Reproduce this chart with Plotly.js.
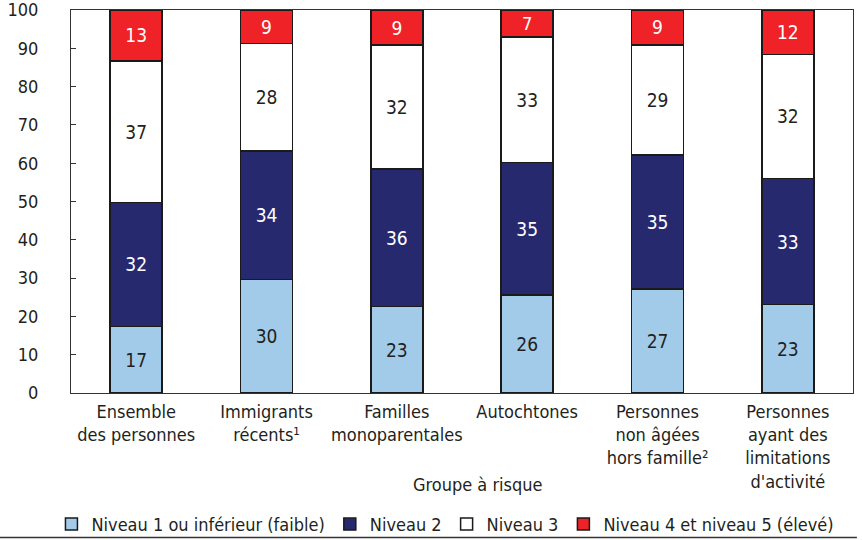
<!DOCTYPE html>
<html>
<head>
<meta charset="utf-8">
<script src="https://cdn.plot.ly/plotly-3.0.1.min.js"></script>
<style>html,body{margin:0;padding:0;background:#fff;}#chart{width:862px;height:540px;}</style>
</head>
<body>
<div id="chart"></div>
<script>
const categories = [
  "Ensemble<br>des personnes",
  "Immigrants<br>récents¹",
  "Familles<br>monoparentales",
  "Autochtones",
  "Personnes<br>non âgées<br>hors famille²",
  "Personnes<br>ayant des<br>limitations<br>d'activité"
];
const seriesNames = ["Niveau 1 ou inférieur (faible)", "Niveau 2", "Niveau 3", "Niveau 4 et niveau 5 (élevé)"];
const niveau1 = [17.4, 29.6, 22.6, 25.6, 27.2, 23.1];
const niveau2 = [32.4, 33.6, 35.9, 34.6, 34.9, 32.9];
const niveau3 = [36.9, 28.0, 32.3, 32.7, 28.8, 32.4];
const niveau45 = [13.3, 8.8, 9.2, 7.1, 9.1, 11.6];
const yTicks = [0, 10, 20, 30, 40, 50, 60, 70, 80, 90, 100];

const FONT = "'Liberation Sans Narrow', 'Arial Narrow', 'DejaVu Sans Condensed', sans-serif";
const colors = ["#a2cbea", "#27296f", "#ffffff", "#ee2227"];
const textColors = ["#231f20", "#ffffff", "#231f20", "#ffffff"];
const series = [niveau1, niveau2, niveau3, niveau45];

const traces = series.map((vals, i) => ({
  type: "bar",
  name: seriesNames[i],
  x: categories,
  y: vals,
  width: 0.4,
  marker: {color: colors[i], line: {color: "#1a1a1a", width: 1.5}},
  texttemplate: "%{y:.0f}",
  textposition: "inside",
  insidetextanchor: "middle",
  textangle: 0,
  insidetextfont: {family: FONT, size: 19, color: textColors[i]},
  hoverinfo: "skip"
}));

const layout = {
  width: 862, height: 540,
  margin: {l: 71, r: 9, t: 10, b: 146.5, autoexpand: false},
  barmode: "stack",
  paper_bgcolor: "#fff", plot_bgcolor: "#fff",
  font: {family: FONT, size: 18, color: "#231f20"},
  showlegend: true,
  legend: {
    orientation: "h",
    x: -0.025, xanchor: "left", y: -0.343, yanchor: "middle",
    bgcolor: "rgba(0,0,0,0)",
    font: {family: FONT, size: 18, color: "#231f20"},
    traceorder: "normal", itemclick: false, itemdoubleclick: false
  },
  xaxis: {
    type: "category",
    showline: true, linecolor: "#333", linewidth: 1, mirror: true,
    ticks: "", showgrid: false, zeroline: false,
    tickfont: {family: FONT, size: 18, color: "#231f20"},
    ticklabelstandoff: 2
  },
  yaxis: {
    range: [0, 100], tickvals: yTicks, ticktext: yTicks.map(String),
    showline: true, linecolor: "#333", linewidth: 1, mirror: true,
    ticks: "inside", ticklen: 5, tickcolor: "#333",
    showgrid: false, zeroline: false,
    ticklabeloverflow: "allow",
    tickfont: {family: FONT, size: 18, color: "#231f20"},
    ticklabelstandoff: 28
  },
  annotations: [{
    text: "Groupe à risque", xref: "paper", yref: "paper",
    x: 0.52, y: -0.2386, xanchor: "center", yanchor: "middle",
    showarrow: false, font: {family: FONT, size: 18, color: "#231f20"}
  }],
  shapes: [{
    type: "line", xref: "paper", yref: "paper",
    x0: -0.0908, x1: 1.005, y0: -0.377, y1: -0.377,
    line: {color: "#333", width: 1.5}
  }]
};

Plotly.newPlot("chart", traces, layout, {displayModeBar: false, staticPlot: true});
</script>
</body>
</html>
